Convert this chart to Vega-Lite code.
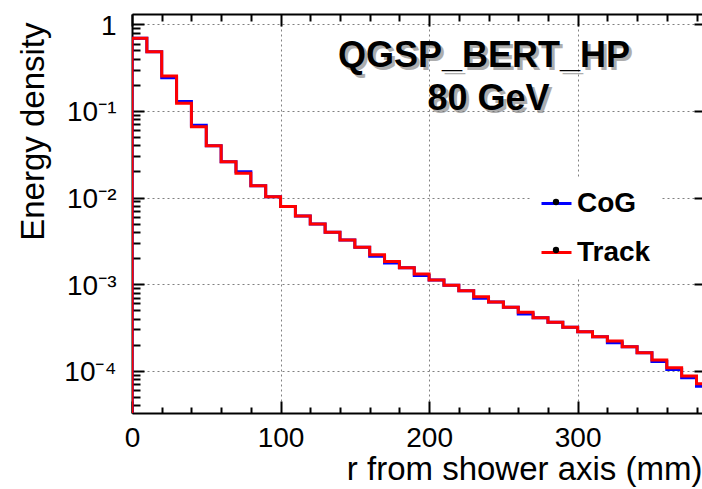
{
  "$schema": "https://vega.github.io/schema/vega-lite/v6.json",
  "autosize": "none",
  "width": 570,
  "height": 399,
  "padding": {"left": 132, "top": 14, "right": 0, "bottom": 76},
  "background": "white",
  "config": {
    "view": {"stroke": null},
    "axis": {
      "labelFont": "Liberation Sans",
      "titleFont": "Liberation Sans",
      "labelColor": "black",
      "titleColor": "black",
      "tickColor": "black",
      "domainColor": "black",
      "titleFontWeight": "normal",
      "gridColor": "#808080",
      "gridDash": [2, 3],
      "gridWidth": 1
    }
  },
  "data": {
    "values": [
      {"series": "CoG", "r": 0, "E": 0.000001},
      {"series": "CoG", "r": 10, "E": 0.69},
      {"series": "CoG", "r": 20, "E": 0.483},
      {"series": "CoG", "r": 30, "E": 0.241},
      {"series": "CoG", "r": 40, "E": 0.128},
      {"series": "CoG", "r": 50, "E": 0.0685},
      {"series": "CoG", "r": 60, "E": 0.0397},
      {"series": "CoG", "r": 70, "E": 0.0259},
      {"series": "CoG", "r": 80, "E": 0.0198},
      {"series": "CoG", "r": 90, "E": 0.01368},
      {"series": "CoG", "r": 100, "E": 0.0102},
      {"series": "CoG", "r": 110, "E": 0.0079},
      {"series": "CoG", "r": 120, "E": 0.00611},
      {"series": "CoG", "r": 130, "E": 0.00494},
      {"series": "CoG", "r": 140, "E": 0.00396},
      {"series": "CoG", "r": 150, "E": 0.00323},
      {"series": "CoG", "r": 160, "E": 0.00266},
      {"series": "CoG", "r": 170, "E": 0.0021},
      {"series": "CoG", "r": 180, "E": 0.00175},
      {"series": "CoG", "r": 190, "E": 0.00155},
      {"series": "CoG", "r": 200, "E": 0.00126},
      {"series": "CoG", "r": 210, "E": 0.001115},
      {"series": "CoG", "r": 220, "E": 0.000969},
      {"series": "CoG", "r": 230, "E": 0.00084},
      {"series": "CoG", "r": 240, "E": 0.000688},
      {"series": "CoG", "r": 250, "E": 0.000621},
      {"series": "CoG", "r": 260, "E": 0.00054},
      {"series": "CoG", "r": 270, "E": 0.000453},
      {"series": "CoG", "r": 280, "E": 0.000409},
      {"series": "CoG", "r": 290, "E": 0.000362},
      {"series": "CoG", "r": 300, "E": 0.000317},
      {"series": "CoG", "r": 310, "E": 0.000282},
      {"series": "CoG", "r": 320, "E": 0.000247},
      {"series": "CoG", "r": 330, "E": 0.000211},
      {"series": "CoG", "r": 340, "E": 0.000189},
      {"series": "CoG", "r": 350, "E": 0.000161},
      {"series": "CoG", "r": 360, "E": 0.000128},
      {"series": "CoG", "r": 370, "E": 0.000103},
      {"series": "CoG", "r": 380, "E": 0.000083},
      {"series": "CoG", "r": 390, "E": 0.000066},
      {"series": "Track", "r": 0, "E": 0.000001},
      {"series": "Track", "r": 10, "E": 0.69},
      {"series": "Track", "r": 20, "E": 0.483},
      {"series": "Track", "r": 30, "E": 0.253},
      {"series": "Track", "r": 40, "E": 0.1225},
      {"series": "Track", "r": 50, "E": 0.0657},
      {"series": "Track", "r": 60, "E": 0.0397},
      {"series": "Track", "r": 70, "E": 0.0259},
      {"series": "Track", "r": 80, "E": 0.019},
      {"series": "Track", "r": 90, "E": 0.01368},
      {"series": "Track", "r": 100, "E": 0.0102},
      {"series": "Track", "r": 110, "E": 0.0079},
      {"series": "Track", "r": 120, "E": 0.00611},
      {"series": "Track", "r": 130, "E": 0.00494},
      {"series": "Track", "r": 140, "E": 0.00396},
      {"series": "Track", "r": 150, "E": 0.00323},
      {"series": "Track", "r": 160, "E": 0.00266},
      {"series": "Track", "r": 170, "E": 0.00219},
      {"series": "Track", "r": 180, "E": 0.00182},
      {"series": "Track", "r": 190, "E": 0.00155},
      {"series": "Track", "r": 200, "E": 0.00131},
      {"series": "Track", "r": 210, "E": 0.001115},
      {"series": "Track", "r": 220, "E": 0.000969},
      {"series": "Track", "r": 230, "E": 0.00084},
      {"series": "Track", "r": 240, "E": 0.000716},
      {"series": "Track", "r": 250, "E": 0.000621},
      {"series": "Track", "r": 260, "E": 0.00054},
      {"series": "Track", "r": 270, "E": 0.000472},
      {"series": "Track", "r": 280, "E": 0.000409},
      {"series": "Track", "r": 290, "E": 0.000362},
      {"series": "Track", "r": 300, "E": 0.000317},
      {"series": "Track", "r": 310, "E": 0.000282},
      {"series": "Track", "r": 320, "E": 0.000247},
      {"series": "Track", "r": 330, "E": 0.00022},
      {"series": "Track", "r": 340, "E": 0.000189},
      {"series": "Track", "r": 350, "E": 0.000161},
      {"series": "Track", "r": 360, "E": 0.000133},
      {"series": "Track", "r": 370, "E": 0.000108},
      {"series": "Track", "r": 380, "E": 0.0000868},
      {"series": "Track", "r": 390, "E": 0.0000708}
    ]
  },
  "resolve": {"axis": {"x": "independent", "y": "independent"}},
  "layer": [
    {
      "transform": [{"filter": "datum.series == 'CoG'"}],
      "mark": {"type": "line", "interpolate": "step-before", "clip": true, "strokeWidth": 3, "strokeJoin": "miter"},
      "encoding": {
        "x": {
          "field": "r", "type": "quantitative",
          "scale": {"domain": [0, 383.7], "nice": false, "zero": false},
          "axis": {
            "orient": "bottom", "values": [0, 100, 200, 300],
            "labelFontSize": 28, "labelPadding": 11, "labelBaseline": "top", "labelFlush": false,
            "ticks": false, "domain": true, "domainWidth": 2, "grid": true,
            "title": "r from shower axis (mm)", "titleFontSize": 33,
            "titleAnchor": "end", "titleAlign": "right", "titleBaseline": "alphabetic",
            "titleX": 570, "titleY": 66
          }
        },
        "y": {
          "field": "E", "type": "quantitative",
          "scale": {"type": "log", "domain": [0.0000325, 1.315], "nice": false},
          "axis": {
            "orient": "left", "values": [0.0001, 0.001, 0.01, 0.1, 1],
            "labelExpr": "datum.value > 0.5 ? '1' : '10\u207b' + ['', '\u00b9', '\u00b2', '\u00b3', '\u2074'][round(-log(datum.value) / LN10)]",
            "labelFontSize": 28, "labelPadding": 16, "labelBaseline": "middle", "labelOffset": 2, "labelFlush": false,
            "ticks": false, "domain": true, "domainWidth": 2, "grid": true,
            "title": "Energy density", "titleFontSize": 33,
            "titleAngle": 270, "titleAlign": "right", "titleBaseline": "alphabetic",
            "titleX": -89, "titleY": 8
          }
        },
        "stroke": {
          "field": "series", "type": "nominal",
          "scale": {"domain": ["CoG", "Track"], "range": ["#0000ff", "#ff0000"]},
          "legend": {
            "orient": "none", "legendX": 398, "legendY": 163, "title": null, "zindex": 1,
            "fillColor": "white", "strokeColor": null, "padding": 10, "rowPadding": 18,
            "symbolType": "M-1,0H1", "symbolSize": 900, "symbolStrokeWidth": 3,
            "labelFont": "Liberation Sans", "labelFontSize": 28, "labelFontWeight": "bold",
            "labelColor": "black", "labelOffset": 4,
            "labelExpr": "datum.label + '          '"
          }
        }
      }
    },
    {
      "transform": [{"filter": "datum.series == 'Track'"}],
      "mark": {"type": "line", "interpolate": "step-before", "clip": true, "strokeWidth": 3, "strokeJoin": "miter"},
      "encoding": {
        "x": {
          "field": "r", "type": "quantitative",
          "scale": {"domain": [0, 383.7], "nice": false, "zero": false},
          "axis": {"orient": "bottom", "values": [0, 100, 200, 300], "labels": false, "domain": false, "grid": false, "ticks": true, "tickSize": -12, "tickWidth": 2, "title": null}
        },
        "y": {
          "field": "E", "type": "quantitative",
          "scale": {"type": "log", "domain": [0.0000325, 1.315], "nice": false},
          "axis": {"orient": "left", "values": [0.0001, 0.001, 0.01, 0.1, 1], "labels": false, "domain": false, "grid": false, "ticks": true, "tickSize": -12, "tickWidth": 2, "title": null}
        },
        "stroke": {"field": "series", "type": "nominal", "scale": {"domain": ["CoG", "Track"], "range": ["#0000ff", "#ff0000"]}}
      }
    },
    {
      "mark": {"type": "point", "filled": true, "opacity": 0},
      "encoding": {
        "x": {
          "field": "r", "type": "quantitative",
          "scale": {"domain": [0, 383.7], "nice": false, "zero": false},
          "axis": {"orient": "bottom", "values": [20, 40, 60, 80, 120, 140, 160, 180, 220, 240, 260, 280, 320, 340, 360, 380], "labels": false, "domain": false, "grid": false, "ticks": true, "tickSize": -6, "tickWidth": 2, "title": null}
        },
        "y": {
          "field": "E", "type": "quantitative",
          "scale": {"type": "log", "domain": [0.0000325, 1.315], "nice": false},
          "axis": {
            "orient": "left",
            "values": [0.00004, 0.00005, 0.00006, 0.00007, 0.00008, 0.00009,
                       0.0002, 0.0003, 0.0004, 0.0005, 0.0006, 0.0007, 0.0008, 0.0009,
                       0.002, 0.003, 0.004, 0.005, 0.006, 0.007, 0.008, 0.009,
                       0.02, 0.03, 0.04, 0.05, 0.06, 0.07, 0.08, 0.09,
                       0.2, 0.3, 0.4, 0.5, 0.6, 0.7, 0.8, 0.9],
            "labels": false, "domain": false, "grid": false, "ticks": true, "tickSize": -8, "tickWidth": 2, "title": null
          }
        },
        "fill": {
          "field": "series", "type": "nominal",
          "scale": {"range": ["black", "black"]},
          "legend": {
            "orient": "none", "legendX": 399, "legendY": 163, "title": null, "zindex": 2,
            "padding": 10, "rowPadding": 18,
            "symbolType": "circle", "symbolSize": 40, "symbolStrokeWidth": 0, "symbolOpacity": 1,
            "labelFont": "Liberation Sans", "labelFontSize": 30, "labelFontWeight": "bold",
            "labelExpr": "''", "labelOffset": 7
          }
        }
      }
    },
    {
      "data": {"values": [{}]},
      "mark": {"type": "text", "text": "QGSP_BERT_HP", "font": "Liberation Sans", "fontSize": 36, "fontWeight": "bold", "align": "center", "baseline": "alphabetic", "dx": 3, "dy": 3, "color": "#777777", "opacity": 0.6},
      "encoding": {
        "x": {
          "datum": 237, "type": "quantitative",
          "scale": {"domain": [0, 383.7], "nice": false, "zero": false},
          "axis": {"orient": "top", "values": [0, 100, 200, 300], "labels": false, "domain": true, "domainWidth": 2, "grid": false, "ticks": true, "tickSize": -12, "tickWidth": 2, "title": null}
        },
        "y": {
          "datum": 0.3213, "type": "quantitative",
          "scale": {"type": "log", "domain": [0.0000325, 1.315], "nice": false},
          "axis": {"orient": "right", "values": [0.0001, 0.001, 0.01, 0.1, 1], "labels": false, "domain": false, "grid": false, "ticks": true, "tickSize": -8, "tickWidth": 2, "title": null}
        }
      }
    },
    {
      "data": {"values": [{}]},
      "mark": {"type": "text", "text": "QGSP_BERT_HP", "font": "Liberation Sans", "fontSize": 36, "fontWeight": "bold", "align": "center", "baseline": "alphabetic", "color": "black"},
      "encoding": {
        "x": {
          "datum": 237, "type": "quantitative",
          "scale": {"domain": [0, 383.7], "nice": false, "zero": false},
          "axis": {"orient": "top", "values": [20, 40, 60, 80, 120, 140, 160, 180, 220, 240, 260, 280, 320, 340, 360, 380], "labels": false, "domain": false, "grid": false, "ticks": true, "tickSize": -7, "tickWidth": 2, "title": null}
        },
        "y": {
          "datum": 0.3213, "type": "quantitative",
          "scale": {"type": "log", "domain": [0.0000325, 1.315], "nice": false},
          "axis": null
        }
      }
    },
    {
      "data": {"values": [{}]},
      "mark": {"type": "text", "text": "80 GeV", "font": "Liberation Sans", "fontSize": 36, "fontWeight": "bold", "align": "center", "baseline": "alphabetic", "dx": 3, "dy": 3, "color": "#777777", "opacity": 0.6},
      "encoding": {
        "x": {"datum": 240, "type": "quantitative", "scale": {"domain": [0, 383.7], "nice": false, "zero": false}, "axis": null},
        "y": {"datum": 0.1024, "type": "quantitative", "scale": {"type": "log", "domain": [0.0000325, 1.315], "nice": false}, "axis": null}
      }
    },
    {
      "data": {"values": [{}]},
      "mark": {"type": "text", "text": "80 GeV", "font": "Liberation Sans", "fontSize": 36, "fontWeight": "bold", "align": "center", "baseline": "alphabetic", "color": "black"},
      "encoding": {
        "x": {"datum": 240, "type": "quantitative", "scale": {"domain": [0, 383.7], "nice": false, "zero": false}, "axis": null},
        "y": {"datum": 0.1024, "type": "quantitative", "scale": {"type": "log", "domain": [0.0000325, 1.315], "nice": false}, "axis": null}
      }
    }
  ]
}
